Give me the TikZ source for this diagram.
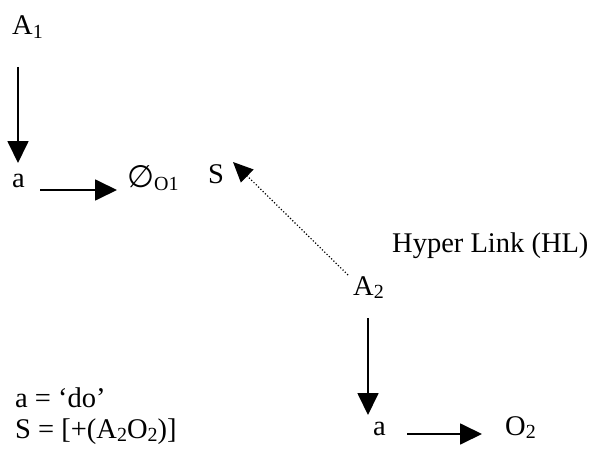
\documentclass[tikz,border=0pt]{standalone}
\usepackage{fontspec}
\setmainfont{Liberation Serif}
\newfontfamily\symfont{DejaVu Sans}
\usetikzlibrary{arrows.meta}
\newcommand{\mysub}[1]{\raisebox{-0.14em}{\fontsize{20}{20}\selectfont #1}}
\begin{document}
\begin{tikzpicture}[x=1pt,y=1pt,
  lbl/.style={inner sep=0pt,anchor=base west,font=\fontsize{28.5}{34}\selectfont},
  arr/.style={line width=1.8pt,-{Triangle[length=22pt,width=21pt]}},
  hl/.style={line width=1.2pt,dotted,-{Triangle[length=20pt,width=18pt]}}]
\useasboundingbox (0,0) rectangle (608,451);
\node[lbl] (A1) at (12,416) {A\mysub{1}};
\node[lbl] (a1) at (12,264) {a};
\node[lbl] (O1) at (127,264) {{\symfont\fontsize{31}{31}\selectfont ∅}\mysub{O1}};
\node[lbl] (S) at (208,268) {S};
\node[lbl] (A2) at (353,156) {A\mysub{2}};
\node[lbl] (HL) at (392,199) {Hyper Link (HL)};
\node[lbl] (a2) at (373,16) {a};
\node[lbl] (O2) at (505,16) {O\mysub{2}};
\node[lbl] (d1) at (15,44) {a = ‘do’};
\node[lbl] (d2) at (15,13) {S = [+(A\mysub{2}O\mysub{2})]};
\draw[arr] ([xshift=6pt,yshift=-32pt]A1.base west) -- ([xshift=6pt,yshift=24pt]a1.base west);
\draw[arr] ([xshift=28pt,yshift=-3pt]a1.base west) -- ([xshift=-10pt,yshift=-3pt]O1.base west);
\draw[arr] ([xshift=15pt,yshift=-23pt]A2.base west) -- ([xshift=-5pt,yshift=20pt]a2.base west);
\draw[arr] ([xshift=34pt,yshift=1pt]a2.base west) -- ([xshift=-23pt,yshift=1pt]O2.base west);
\draw[hl] ([xshift=-5pt,yshift=20pt]A2.base west) -- ([xshift=25pt,yshift=21pt]S.base west);
\end{tikzpicture}
\end{document}
